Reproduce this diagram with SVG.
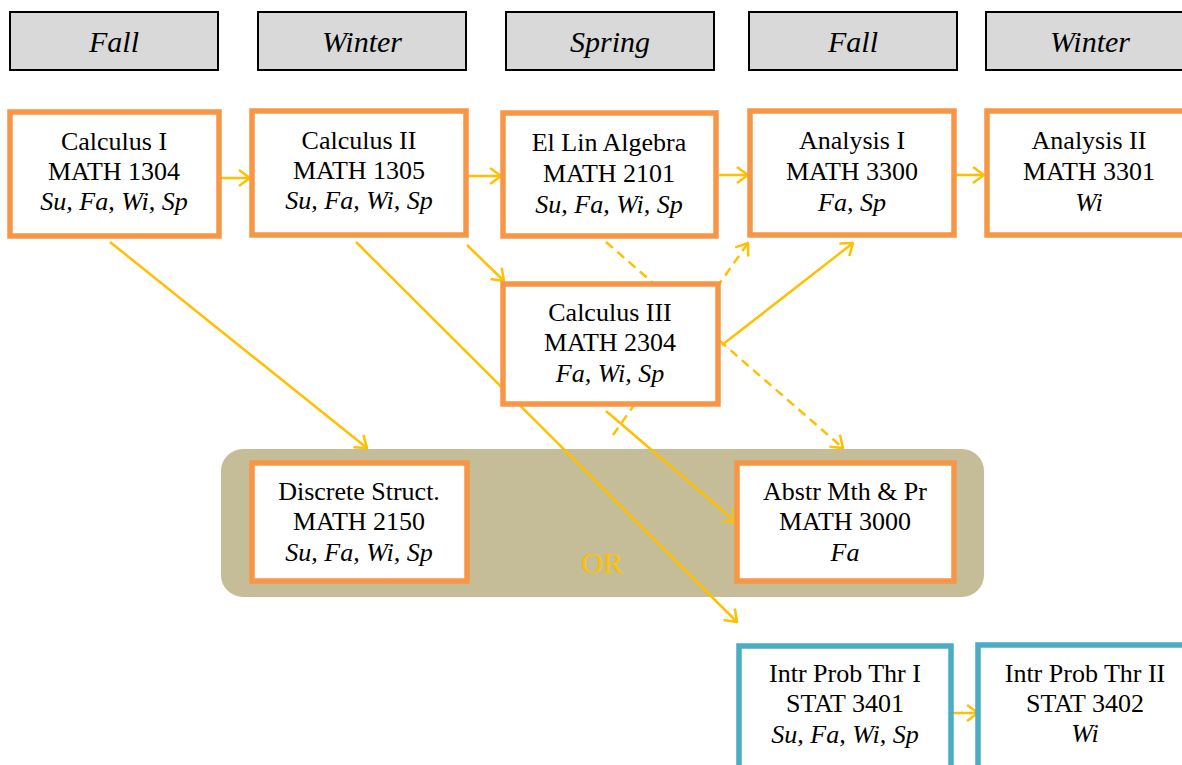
<svg xmlns="http://www.w3.org/2000/svg" width="1182" height="765" viewBox="0 0 1182 765">
<defs>
<marker id="ah" viewBox="0 0 13 18" refX="12" refY="9" markerWidth="13" markerHeight="18" markerUnits="userSpaceOnUse" orient="auto">
<path d="M1,1 L12,9 L1,17" fill="none" stroke="#FFC000" stroke-width="2.5"/>
</marker>
</defs>
<style>
.hdr{fill:#D9D9D9;stroke:#000;stroke-width:2}
.ht{font-family:"Liberation Serif",serif;font-style:italic;font-size:30px;text-anchor:middle;fill:#000}
.box{fill:#fff;stroke:#F79646;stroke-width:5.5}
.bbox{fill:#fff;stroke:#4BACC6;stroke-width:5.5}
.t{font-family:"Liberation Serif",serif;font-size:26px;text-anchor:middle;fill:#000}
.i{font-style:italic}
.c{fill:none;stroke:#FFC000;stroke-width:2.5;marker-end:url(#ah)}
.d{stroke-dasharray:9 6}
</style>
<rect width="1182" height="765" fill="#fff"/>
<g id="headers">
<g id="h-fall1"><rect class="hdr" x="10" y="12" width="208" height="58"/><text class="ht" x="114" y="52">Fall</text></g>
<g id="h-winter1"><rect class="hdr" x="258" y="12" width="208" height="58"/><text class="ht" x="362" y="52">Winter</text></g>
<g id="h-spring"><rect class="hdr" x="506" y="12" width="208" height="58"/><text class="ht" x="610" y="52">Spring</text></g>
<g id="h-fall2"><rect class="hdr" x="749" y="12" width="208" height="58"/><text class="ht" x="853" y="52">Fall</text></g>
<g id="h-winter2"><rect class="hdr" x="986" y="12" width="208" height="58"/><text class="ht" x="1090" y="52">Winter</text></g>
</g>
<g id="or-group">
<rect x="221" y="449" width="763" height="148" rx="22" fill="#C4BD97"/>
<text x="602" y="573" font-family="Liberation Serif,serif" font-size="30" text-anchor="middle" fill="#FFC000">OR</text>
</g>
<g id="connectors">
<line class="c" x1="220" y1="178" x2="250" y2="178"/>
<line class="c" x1="468" y1="176" x2="501" y2="176"/>
<line class="c" x1="719" y1="175" x2="748" y2="175"/>
<line class="c" x1="955" y1="175" x2="984" y2="175"/>
<line class="c" x1="110" y1="242" x2="367" y2="448"/>
<line class="c" x1="356" y1="242" x2="737" y2="622"/>
<line class="c" x1="467" y1="245" x2="504" y2="281"/>
<line class="c d" x1="606" y1="242" x2="843" y2="448"/>
<line class="c d" x1="613" y1="435" x2="748" y2="243"/>
<line class="c" x1="722" y1="345" x2="853" y2="243"/>
<line class="c" x1="606" y1="411" x2="736" y2="522"/>
<line class="c" x1="948" y1="713" x2="978" y2="713"/>
</g>
<g id="calc1"><rect class="box" x="10" y="112" width="209" height="124"/>
<text class="t" x="114" y="150">Calculus I</text><text class="t" x="114" y="180">MATH 1304</text><text class="t i" x="114" y="210">Su, Fa, Wi, Sp</text></g>
<g id="calc2"><rect class="box" x="252" y="111" width="214" height="124"/>
<text class="t" x="359" y="149">Calculus II</text><text class="t" x="359" y="179">MATH 1305</text><text class="t i" x="359" y="209">Su, Fa, Wi, Sp</text></g>
<g id="linalg"><rect class="box" x="503" y="113" width="213" height="123"/>
<text class="t" x="609" y="151">El Lin Algebra</text><text class="t" x="609" y="182">MATH 2101</text><text class="t i" x="609" y="213">Su, Fa, Wi, Sp</text></g>
<g id="anal1"><rect class="box" x="750" y="111" width="204" height="124"/>
<text class="t" x="852" y="149">Analysis I</text><text class="t" x="852" y="180">MATH 3300</text><text class="t i" x="852" y="211">Fa, Sp</text></g>
<g id="anal2"><rect class="box" x="987" y="111" width="210" height="124"/>
<text class="t" x="1089" y="149">Analysis II</text><text class="t" x="1089" y="180">MATH 3301</text><text class="t i" x="1089" y="211">Wi</text></g>
<g id="calc3"><rect class="box" x="503" y="284" width="215" height="120"/>
<text class="t" x="610" y="321">Calculus III</text><text class="t" x="610" y="351">MATH 2304</text><text class="t i" x="610" y="382">Fa, Wi, Sp</text></g>
<g id="discrete"><rect class="box" x="252" y="463" width="215" height="118"/>
<text class="t" x="359" y="500">Discrete Struct.</text><text class="t" x="359" y="530">MATH 2150</text><text class="t i" x="359" y="561">Su, Fa, Wi, Sp</text></g>
<g id="abstr"><rect class="box" x="737" y="463" width="217" height="118"/>
<text class="t" x="845" y="500">Abstr Mth &amp; Pr</text><text class="t" x="845" y="530">MATH 3000</text><text class="t i" x="845" y="561">Fa</text></g>
<g id="prob1"><rect class="bbox" x="739" y="646" width="212" height="130"/>
<text class="t" x="845" y="682">Intr Prob Thr I</text><text class="t" x="845" y="712">STAT 3401</text><text class="t i" x="845" y="743">Su, Fa, Wi, Sp</text></g>
<g id="prob2"><rect class="bbox" x="978" y="645" width="214" height="130"/>
<text class="t" x="1085" y="682">Intr Prob Thr II</text><text class="t" x="1085" y="712">STAT 3402</text><text class="t i" x="1085" y="742">Wi</text></g>
</svg>
